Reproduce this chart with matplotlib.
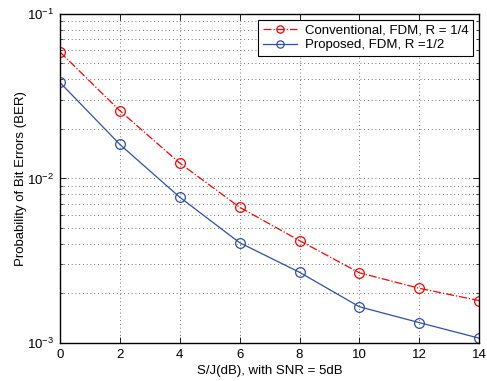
import matplotlib
matplotlib.use('Agg')
import matplotlib.pyplot as plt
import numpy as np

plt.rcParams['font.family'] = ['Liberation Sans', 'DejaVu Sans']
plt.rcParams['font.size'] = 9.5

# S/J in dB
sj_db = [0, 2, 4, 6, 8, 10, 12, 14]
# BER values
ber_conventional = [0.0587, 0.0258, 0.0124, 0.00668, 0.00419, 0.00267, 0.00215, 0.00181]
ber_proposed = [0.0383, 0.0161, 0.00769, 0.00407, 0.00269, 0.00166, 0.00133, 0.00107]

label_conventional = 'Conventional, FDM, R = 1/4'
label_proposed = 'Proposed, FDM, R =1/2'

fig = plt.figure(figsize=(4.87, 3.81), dpi=100)
ax = fig.add_axes([0.123, 0.0997, 0.861, 0.864])

ax.semilogy(sj_db, ber_conventional, '-.', color='#ff0000', lw=0.9,
            marker='o', ms=7, mfc='none', mec='#ff0000', mew=0.9,
            label=label_conventional)
ax.semilogy(sj_db, ber_proposed, '-', color='#2f4fa8', lw=0.9,
            marker='o', ms=7, mfc='none', mec='#2f4fa8', mew=0.9,
            label=label_proposed)

ax.set_xlim(0, 14)
ax.set_ylim(1e-3, 1e-1)
ax.set_xticks(np.arange(0, 15, 2))

# MATLAB-like box: ticks inside on all sides
ax.tick_params(which='both', direction='in', top=True, right=True)
ax.tick_params(which='major', length=4, width=0.6, pad=4)
ax.tick_params(which='minor', length=2, width=0.5)
ax.tick_params(axis='x', which='minor', bottom=False, top=False)
for sp in ax.spines.values():
    sp.set_linewidth(1.0)

ax.grid(True, which='major', linestyle=(0, (1, 3.5)), color='#444444', lw=0.6)
ax.grid(True, which='minor', axis='y', linestyle=(0, (1, 3.5)), color='#444444', lw=0.6)

ax.set_xlabel('S/J(dB), with SNR = 5dB', labelpad=3)
ax.set_ylabel('Probability of Bit Errors (BER)', labelpad=0)

leg = ax.legend(loc='upper right', fancybox=False, framealpha=1,
                edgecolor='black', borderaxespad=0.45, handlelength=2.6,
                borderpad=0.35, labelspacing=0.2, fontsize=9.5,
                markerscale=0.75, handletextpad=0.6)
leg.get_frame().set_linewidth(0.8)

fig.savefig('out.png', dpi=100)
